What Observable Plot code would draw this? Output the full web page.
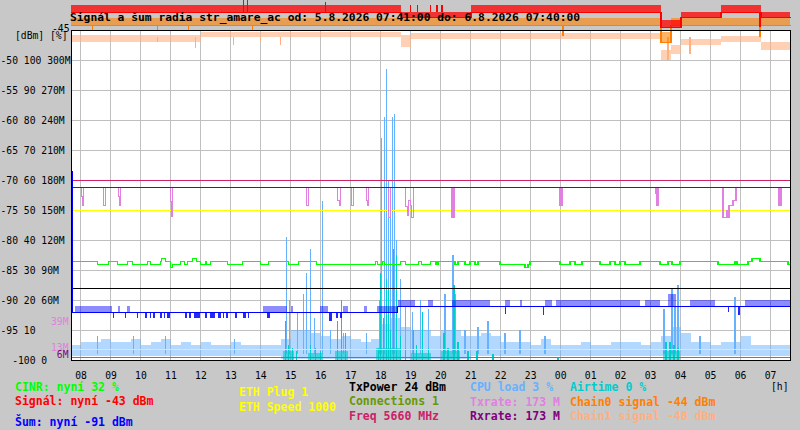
<!DOCTYPE html>
<html><head><meta charset="utf-8">
<script src="https://cdn.jsdelivr.net/npm/d3@7"></script>
<script src="https://cdn.jsdelivr.net/npm/@observablehq/plot@0.6"></script>
<style>
body{margin:0;background:#c8c8c8;}
#wrap{position:relative;width:800px;height:430px;overflow:hidden;background:#c8c8c8;font-family:"DejaVu Sans Mono",monospace;}
#wrap svg{position:absolute;left:0;top:0;}
.t{position:absolute;white-space:pre;line-height:1;font-weight:bold;font-size:11.5px;}
.r{position:absolute;white-space:pre;line-height:1;font-size:9.7px;color:#000;}
</style></head><body><div id="wrap"></div>
<script>
// ---------- DATA ----------
const yTicks  = [-100,-95,-90,-85,-80,-75,-70,-65,-60,-55,-50];
const yLabels = ["\u00a0\u00a0-100 0","-95 10","-90 20 60M","-85 30 90M","-80 40 120M","-75 50 150M","-70 60 180M","-65 70 210M","-60 80 240M","-55 90 270M","-50 100 300M"];
const txLabelValues = [39, 13];   // Mbit/s marks (Txrate colour)
const rxLabelValues = [6];        // Mbit/s mark (Rxrate colour)

// 20-minute samples, 07:41 .. 07:40 (73 values)
const sigHi = [-40.8,-40.8,-40.8,-40.8,-40.8,-40.8,-40.8,-40.8,-40.8,-40.8,-40.8,-40.8,-40.8,-40.8,-40.8,-40.8,-40.8,-40.8,-40.8,-40.8,-40.8,-40.8,-40.8,-40.8,-40.8,-40.8,-40.8,-40.8,-40.8,-40.8,-40.8,-40.8,-40.8,
  -42.0,-42.0,-42.0,-42.0,-42.0,-42.0,-42.0,
  -40.8,-40.8,-40.8,-40.8,-40.8,-40.8,-40.8,-40.8,-40.8,-40.8,-40.8,-40.8,-40.8,-40.8,-40.8,-40.8,-40.8,-40.8,-40.8,
  -43.3,-43.3,-42.0,-42.0,-42.0,-42.0,-40.8,-40.8,-40.8,-40.8,-42.0,-42.0,-42.0,-42.0];
const sigLo = [-42.0,-42.0,-42.0,-42.0,-42.0,-42.0,-42.0,-42.0,-42.0,-42.0,-42.0,-42.0,-42.0,-42.0,-42.0,-42.0,-42.0,-42.0,-42.0,-42.0,-42.0,-42.0,-42.0,-42.0,-42.0,-42.0,-42.0,-42.0,-42.0,-42.0,-42.0,-42.0,-42.0,
  -42.8,-42.8,-42.8,-42.8,-42.8,-42.8,-42.8,
  -42.0,-42.0,-42.0,-42.0,-42.0,-42.0,-42.0,-42.0,-42.0,-42.0,-42.0,-42.0,-42.0,-42.0,-42.0,-42.0,-42.0,-42.0,-42.0,
  -44.5,-44.5,-42.8,-42.8,-42.8,-42.8,-42.0,-42.0,-42.0,-42.0,-42.8,-42.8,-42.8,-42.8];
const c0Hi = [-43.0,-43.0,-43.0,-43.0,-43.0,-43.0,-43.0,-43.0,-43.0,-43.0,-43.0,-43.0,-43.0,-43.0,-43.0,-43.0,-43.0,-43.0,-43.0,-43.0,-43.0,-43.0,-43.0,-43.0,-43.0,-43.0,-43.0,-43.0,-43.0,-43.0,
  -43.0,-43.0,-43.0,-43.0,-43.0,-43.0,-43.0,-43.0,-43.0,-43.0,-43.0,-43.0,-43.0,-43.0,-43.0,-43.0,-43.0,-43.0,-43.0,-43.0,-43.0,-43.0,-43.0,-43.0,-43.0,-43.0,-43.0,-43.0,-43.0,
  -45.3,-43.0,-43.0,-43.0,-43.0,-43.0,-43.0,-43.0,-43.0,-43.0,-43.0,-43.0,-43.0,-43.0];
const c0Lo = [-44.2,-44.2,-44.2,-44.2,-44.2,-44.2,-44.2,-44.2,-44.2,-44.2,-44.2,-44.2,-44.2,-44.2,-44.2,-44.2,-44.2,-44.2,-44.2,-44.2,-44.2,-44.2,-44.2,-44.2,-44.2,-44.2,-44.2,-44.2,-44.2,-44.2,
  -44.2,-44.2,-44.2,-44.2,-44.2,-44.2,-44.2,-44.2,-44.2,-44.2,-44.2,-44.2,-44.2,-44.2,-44.2,-44.2,-44.2,-44.2,-44.2,-44.2,-44.2,-44.2,-44.2,-44.2,-44.2,-44.2,-44.2,-44.2,-44.2,
  -47.0,-44.2,-44.2,-44.2,-44.2,-44.2,-44.2,-44.2,-44.2,-44.2,-44.2,-44.2,-44.2,-44.2];
const c1Hi = [-45.8,-45.8,-45.8,-45.8,-45.8,-45.8,-45.8,-45.8,-45.8,-45.8,-45.8,-45.8,-45.8,
  -45.3,-45.3,-45.3,-45.3,-45.3,-45.3,-45.3,-45.3,-45.3,-45.3,-45.3,-45.3,-45.3,-45.3,-45.3,-45.3,-45.3,-45.3,-45.3,-45.3,
  -45.8,
  -45.5,-45.5,-45.5,-45.5,-45.5,-45.5,-45.5,-45.5,-45.5,-45.5,-45.5,-45.5,-45.5,-45.5,-45.5,-45.5,-45.5,-45.5,-45.5,-45.5,-45.5,-45.5,-45.5,-45.5,-45.5,
  -48.3,-47.5,-46.5,-46.5,-46.5,-46.5,-46.0,-46.0,-46.0,-46.0,-47.0,-47.0,-47.0,-47.0];
const c1Lo = [-47.0,-47.0,-47.0,-47.0,-47.0,-47.0,-47.0,-47.0,-47.0,-47.0,-47.0,-47.0,-47.0,
  -46.2,-46.2,-46.2,-46.2,-46.2,-46.2,-46.2,-46.2,-46.2,-46.2,-46.2,-46.2,-46.2,-46.2,-46.2,-46.2,-46.2,-46.2,-46.2,-46.2,
  -47.8,
  -46.5,-46.5,-46.5,-46.5,-46.5,-46.5,-46.5,-46.5,-46.5,-46.5,-46.5,-46.5,-46.5,-46.5,-46.5,-46.5,-46.5,-46.5,-46.5,-46.5,-46.5,-46.5,-46.5,-46.5,-46.5,
  -50.0,-49.0,-47.5,-47.5,-47.5,-47.5,-47.0,-47.0,-47.0,-47.0,-48.3,-48.3,-48.3,-48.3];
const cpuHi = [5,6,6,7,6,6,7,5,6,7, 5,6,5,6,5,5,6,5,5,5, 5,7,10,10,9,8,7,8,7,6, 7,12,14,11,10,10,8,10,10,8,
  8,9,8,6,6,6,5,7,5,5, 5,6,5,5,6,6,6,5,6,8, 11,9,6,6,5,6,6,8,5,5, 5,5,5];
const cpuLo = [1.5,1.5,1.5,1.5,1.5,1.5,1.5,1.5,1.5,1.5,1.5,1.5,1.5,1.5,1.5,1.5,1.5,1.5,1.5,1.5,1.5,
  0.5,0.5,0.5,0.5,0.5,0.5,0.5,0.5,0.5,0.5,0.5,0.5,0.5,0.5,0.5,0.5,0.5,0.5,0.5,
  1.5,1.5,1.5,1.5,1.5,1.5,1.5,1.5,1.5,1.5,1.5,1.5,1.5,1.5,1.5,1.5,1.5,1.5,1.5,1.5,1.5,1.5,1.5,1.5,1.5,1.5,1.5,1.5,1.5,1.5,1.5,1.5,1.5];

// single readings [time, value]
const sigSpikes = [["13:25",-40.0],["13:33",-40.0],["16:09",-40.4],["18:59",-40.8],["19:13",-40.8],["19:39",-40.8],["19:53",-40.8],["20:03",-40.8],["06:39",-44.5]];
const c0Spikes  = [["08:23",-45.0],["10:33",-45.0],["11:35",-45.0],["13:43",-45.0],["00:05",-46.0],["06:39",-46.2]];
const c1Spikes  = [["10:33",-47.0],["11:49",-48.0],["13:05",-47.5],["13:59",-47.0],["14:39",-47.5],["03:35",-50.0],["04:19",-49.0]];
const cpuSpikes = [["08:33",8],["09:45",8],["10:49",8],["13:07",7],["14:51",41],["14:57",20],["15:13",16],["15:25",22],["15:31",29],["15:39",37],["15:47",14],["16:03",53],["16:19",10],["16:45",9],["17:31",9],["17:57",20],["18:01",74],["18:07",81],["18:11",97],["18:15",60],["18:19",48],["18:23",81],["18:27",82],["18:31",40],["18:39",27],["18:49",18],["19:03",16],["19:19",20],["19:35",17],["20:09",22],["20:25",35],["20:29",22],["20:49",10],["21:15",11],["21:35",13],["22:09",9],["22:39",10],["23:29",8],["03:27",17],["03:43",24],["03:49",18],["03:55",25],["04:39",8],["05:49",21]];
const airtimeSpikes = [["14:49",13],["14:55",5],["15:03",4],["15:11",3],["15:39",5],["15:49",4],["15:59",3],["16:33",13],["16:41",20],["16:49",9],["17:55",4],["17:59",29],["18:05",14],["18:11",27],["18:15",24],["18:19",10],["18:25",37],["18:31",35],["18:39",8],["18:49",4],["19:05",10],["19:11",5],["19:23",16],["19:35",4],["20:07",9],["20:15",4],["20:27",25],["20:35",6],["20:55",3],["21:13",3],["21:45",2],["23:55",1],["03:31",6],["03:39",6],["03:47",5],["03:55",4]];
const airtimeBands = [["14:45","15:07",3],["15:35","16:05",2.5],["16:29","16:55",3],["17:51","18:41",4],["19:01","19:41",2.5],["20:01","20:39",3],["03:25","03:59",3]];

// change points [time, value]
const txrate = [["07:41",173],["08:01",164],["08:03",155],["08:05",173],["08:45",155],["08:49",173],["09:15",164],["09:17",155],["09:19",173],["10:59",159],["11:01",144],["11:03",173],["15:31",155],["15:35",173],["16:33",160],["16:37",155],["16:39",173],["17:01",155],["17:05",173],["17:31",160],["17:33",155],["17:35",173],["18:15",143],["18:19",173],["18:49",154],["18:53",145],["18:55",160],["18:59",155],["19:01",143],["19:05",173],["20:23",143],["20:27",173],["23:59",155],["00:03",173],["03:11",167],["03:13",155],["03:15",173],["05:25",143],["05:33",150],["05:35",143],["05:37",155],["05:45",160],["05:51",173],["07:17",155],["07:21",173],["07:40",173]];
const cinr = [["07:41",33],["08:33",32],["08:55",33],["09:13",32],["09:33",33],["09:43",32],["10:13",33],["10:19",32],["10:39",33],["10:41",34],["10:49",33],["10:59",31],["11:03",32],["11:19",33],["11:27",32],["11:33",33],["11:43",34],["11:51",33],["11:59",32],["12:09",33],["12:11",32],["12:19",33],["12:53",32],["13:23",33],["13:59",32],["14:15",33],["14:55",32],["15:15",33],["15:51",32],["17:49",33],["17:53",32],["18:03",33],["18:07",32],["18:39",33],["18:49",32],["19:15",33],["19:21",32],["19:39",33],["19:51",32],["19:55",33],["20:29",32],["20:35",33],["20:49",32],["20:59",33],["21:09",32],["21:15",33],["21:59",32],["22:49",31],["22:55",32],["22:59",33],["23:59",32],["00:19",33],["00:29",32],["00:43",33],["01:19",32],["01:39",33],["01:49",32],["01:59",33],["02:09",32],["02:39",33],["03:19",32],["03:35",33],["03:43",32],["03:59",33],["05:15",32],["05:49",33],["05:53",32],["06:15",33],["06:23",34],["06:39",33],["07:35",32],["07:40",32]];
const noise = [["07:41",-68.5],["07:43",-92],["18:33",-91],["07:40",-91]];
const noiseUp = [["07:49","09:03",-91],["09:15","09:19",-91],["09:33","09:39",-91],["14:05","14:53",-91],["15:01","15:05",-91],["15:59","16:15",-91],["16:45","16:55",-91],["17:27","17:33",-91],["17:53","18:33",-91],["18:35","19:09",-90],["19:35","19:45",-90],["20:23","21:39",-90],["22:09","22:19",-90],["22:39","22:43",-90],["23:29","23:43",-90],["23:51","02:39",-90],["02:49","03:19",-90],["03:35","03:51",-89],["04:19","05:09",-90],["06:09","07:39",-90]];
const noiseDown = [["09:05","09:07",-93],["09:29","09:31",-93],["09:53","09:55",-93],["10:09","10:13",-93],["10:19","10:21",-93],["10:25","10:29",-93],["10:39","10:43",-93],["10:47","10:49",-93],["10:53","10:59",-93],["11:29","11:33",-93],["11:37","11:41",-93],["11:47","11:59",-93],["12:09","12:13",-93],["12:19","12:29",-93],["12:35","12:41",-93],["12:45","12:47",-93],["12:51","12:55",-93],["13:09","13:13",-93],["13:25","13:31",-93],["13:35","13:37",-93],["14:13","14:19",-93],["16:17","16:23",-93.5],["16:31","16:35",-93],["16:39","16:43",-93],["22:09","22:11",-92.3],["23:25","23:27",-92.5],["05:35","05:37",-92],["05:55","05:59",-92.5]];

const rxRate = [173], txPower = [24], connections = [1], freqMHz = [5660], ethPlug = [1], ethSpeed = [1000];

// ---------- HELPERS ----------
const START = new Date(2026,7,5,7,41), END = new Date(2026,7,6,7,40);
function T(s){const [h,m]=s.split(":").map(Number);const d=(h*60+m<7*60+41)?6:5;return new Date(2026,7,d,h,m);}
const gridTime = i => new Date(Math.min(START.getTime()+i*20*60000, END.getTime()));
const pct = v => -100 + v/2;           // % scale (0..100) onto dBm axis
const mbps = v => -100 + v/6;          // M scale (0..300) onto dBm axis
const freqY = v => -100 + (v-5480)/6;
const ethSpeedY = v => -100 + v*0.15/6;
const ethPlugY = v => -100 + v*10.7/6;
const noiseBaseAt = t => { let b = noise[0][1]; for (const [s,v] of noise) if (T(s) <= t) b = v; return b; };

const bands = sigHi.map((_,i)=>({t:gridTime(i),sigHi:sigHi[i],sigLo:sigLo[i],c0Hi:c0Hi[i],c0Lo:c0Lo[i],c1Hi:c1Hi[i],c1Lo:c1Lo[i],cpuHi:cpuHi[i],cpuLo:cpuLo[i]}));
const hours = d3.timeHour.range(new Date(2026,7,5,8,0), new Date(2026,7,6,7,41));
const yGrid = [-95,-90,-85,-80,-75,-70,-65,-60,-55,-50];
const yAxisRows = yTicks.map((v,i)=>({v,label:yLabels[i]}));
const CR = "crispEdges";

const chart = Plot.plot({
  width: 800, height: 430,
  marginLeft: 71, marginRight: 10, marginTop: 30, marginBottom: 70,
  style: {background:"#c8c8c8", fontFamily:"'DejaVu Sans Mono', monospace", fontSize:"9.7px", color:"#000", overflow:"visible"},
  x: {type:"time", domain:[START, END], axis:null},
  y: {domain:[-100,-45], axis:null},
  marks: [
    Plot.frame({fill:"white", stroke:null}),
    Plot.ruleX(hours, {stroke:"#c0c0c0", strokeOpacity:1, shapeRendering:CR}),
    Plot.ruleY(yGrid, {stroke:"#c0c0c0", strokeOpacity:1, shapeRendering:CR}),
    // CPU load
    Plot.areaY(bands, {x:"t", y1:d=>pct(d.cpuLo), y2:d=>pct(d.cpuHi), curve:"step-after", fill:"#66b2ff", fillOpacity:0.5, shapeRendering:CR}),
    Plot.ruleX(cpuSpikes, {x:d=>T(d[0]), y1:pct(2), y2:d=>pct(d[1]), stroke:"#66b2ff", strokeWidth:1.5, shapeRendering:CR}),
    // Airtime
    Plot.rect(airtimeBands, {x1:d=>T(d[0]), x2:d=>T(d[1]), y1:pct(0), y2:d=>pct(d[2]), fill:"#00cccc", fillOpacity:0.6, shapeRendering:CR}),
    Plot.ruleX(airtimeSpikes, {x:d=>T(d[0]), y1:pct(0), y2:d=>pct(d[1]), stroke:"#00cccc", strokeWidth:1.5, shapeRendering:CR}),
    // constant lines
    Plot.ruleY(freqMHz, {y:freqY, stroke:"#cc2266", shapeRendering:CR}),
    Plot.ruleY(ethSpeed, {y:ethSpeedY, stroke:"#ffff00", shapeRendering:CR}),
    Plot.ruleY(txPower, {y:pct, stroke:"#000", shapeRendering:CR}),
    Plot.ruleY(ethPlug, {y:ethPlugY, stroke:"#ffff00", shapeRendering:CR}),
    Plot.ruleY(connections, {y:pct, stroke:"#669900", shapeRendering:CR}),
    // Tx / Rx rate
    Plot.line(txrate, {x:d=>T(d[0]), y:d=>mbps(d[1]), curve:"step-after", stroke:"#e080e0", shapeRendering:CR}),
    Plot.ruleY(rxRate, {y:mbps, stroke:"#800080", shapeRendering:CR}),
    // CINR
    Plot.line(cinr, {x:d=>T(d[0]), y:d=>pct(d[1]), curve:"step-after", stroke:"#00ff00", shapeRendering:CR}),
    // Noise
    Plot.rect(noiseUp, {x1:d=>T(d[0]), x2:d=>T(d[1]), y1:d=>noiseBaseAt(T(d[0])), y2:d=>d[2], fill:"#0000ff", fillOpacity:0.45, shapeRendering:CR}),
    Plot.rect(noiseDown, {x1:d=>T(d[0]), x2:d=>T(d[1]), y1:d=>noiseBaseAt(T(d[0])), y2:d=>d[2], fill:"#0000ff", fillOpacity:0.85, shapeRendering:CR}),
    Plot.line(noise, {x:d=>T(d[0]), y:d=>d[1], curve:"step-after", stroke:"#0000ff", strokeWidth:1.5, shapeRendering:CR}),
    // Chain1
    Plot.areaY(bands, {x:"t", y1:"c1Lo", y2:"c1Hi", curve:"step-after", fill:"#ffb080", fillOpacity:0.6, shapeRendering:CR}),
    Plot.ruleX(c1Spikes, {x:d=>T(d[0]), y1:-46.2, y2:d=>d[1], stroke:"#ffb080", strokeWidth:1.5, shapeRendering:CR}),
    // Chain0
    Plot.areaY(bands, {x:"t", y1:"c0Lo", y2:"c0Hi", curve:"step-after", fill:"#ff8000", fillOpacity:0.6, shapeRendering:CR}),
    Plot.line(bands, {x:"t", y:"c0Lo", curve:"step-after", stroke:"#ff8000", shapeRendering:CR}),
    Plot.ruleX(c0Spikes, {x:d=>T(d[0]), y1:-44.2, y2:d=>d[1], stroke:"#ff8000", strokeWidth:1.5, shapeRendering:CR}),
    // Signal
    Plot.areaY(bands, {x:"t", y1:"sigLo", y2:"sigHi", curve:"step-after", fill:"#ff0000", fillOpacity:0.75, shapeRendering:CR}),
    Plot.line(bands, {x:"t", y:"sigLo", curve:"step-after", stroke:"#ff0000", shapeRendering:CR}),
    Plot.ruleX(sigSpikes, {x:d=>T(d[0]), y1:-42.0, y2:d=>d[1], stroke:"#ff0000", strokeWidth:1.5, shapeRendering:CR}),
    // frame & axes
    Plot.frame({stroke:"#000", strokeWidth:1.5, shapeRendering:CR}),
    Plot.axisX(hours, {tickFormat:d=>String(d.getHours()).padStart(2,"0"), tickSize:0, tickPadding:12, label:null, fill:"#000"}),
    Plot.text(yAxisRows, {y:"v", text:"label", frameAnchor:"left", dx:-71, textAnchor:"start", fill:"#000"}),
    Plot.text(txLabelValues, {y:mbps, text:d=>d+"M", frameAnchor:"left", dx:-3, textAnchor:"end", fill:"#e080e0"}),
    Plot.text(rxLabelValues, {y:mbps, text:d=>d+"M", frameAnchor:"left", dx:-3, textAnchor:"end", fill:"#800080"})
  ]
});

const wrap = document.getElementById("wrap");
wrap.appendChild(chart);
const overlay = `
<div class="t" style="left:70px;top:12px;font-size:11.3px;color:#000">Signál a šum radia str_amare_ac od: 5.8.2026 07:41:00 do: 6.8.2026 07:40:00</div>
<div class="r" style="left:52px;top:24px">-45</div>
<div class="r" style="left:15px;top:31px">[dBm] [%]</div>
<div class="t" style="left:15px;top:381.5px;color:#00ff00">CINR: nyní 32 %</div>
<div class="t" style="left:15px;top:396px;color:#ff0000">Signál: nyní -43 dBm</div>
<div class="t" style="left:15px;top:416.5px;color:#0000ff">Šum: nyní -91 dBm</div>
<div class="t" style="left:239px;top:386.5px;color:#ffff00">ETH Plug 1</div>
<div class="t" style="left:239px;top:401.5px;color:#ffff00">ETH Speed 1000</div>
<div class="t" style="left:349px;top:381.5px;color:#000">TxPower 24 dBm</div>
<div class="t" style="left:349px;top:396px;color:#669900">Connections 1</div>
<div class="t" style="left:349px;top:411px;color:#cc2266">Freq 5660 MHz</div>
<div class="t" style="left:470px;top:381.5px;color:#66b2ff">CPU load 3 %</div>
<div class="t" style="left:470px;top:396.5px;color:#e080e0">Txrate: 173 M</div>
<div class="t" style="left:470px;top:411px;color:#800080">Rxrate: 173 M</div>
<div class="t" style="left:570px;top:381.5px;color:#00cccc">Airtime 0 %</div>
<div class="t" style="left:570px;top:396.5px;color:#ff8000">Chain0 signal -44 dBm</div>
<div class="t" style="left:570px;top:411px;color:#ffb080">Chain1 signal -48 dBm</div>
<div class="r" style="left:771px;top:382px">[h]</div>`;
wrap.insertAdjacentHTML("beforeend", overlay);
</script></body></html>
